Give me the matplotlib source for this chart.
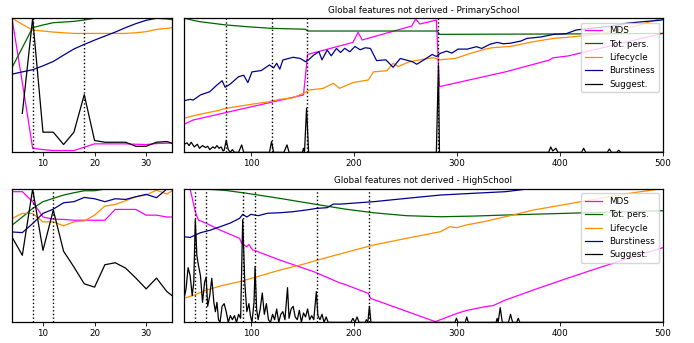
import numpy as np
import matplotlib
matplotlib.use("Agg")
import matplotlib.pyplot as plt

plt.rcParams['font.size'] = 6.3

labels = ['MDS', 'Tot. pers.', 'Lifecycle', 'Burstiness', 'Suggest.']
colors = ['magenta', 'darkgreen', 'darkorange', 'darkblue', 'black']

# ---------------- PrimarySchool, small panel (x 4..35) ----------------
ps_small_x = [4, 6, 8, 10, 12, 14, 16, 18, 20, 22, 24, 26, 28, 30, 32, 34, 35]
ps_small_mds = [1.0, 0.52, 0.03, 0.02, 0.013, 0.013, 0.013, 0.038, 0.063, 0.063, 0.063, 0.063, 0.06, 0.058, 0.065, 0.068, 0.068]
ps_small_pers = [0.633, 0.78, 0.93, 0.95, 0.967, 0.972, 0.977, 0.987, 1.0, 1.0, 1.0, 1.0, 1.0, 1.0, 1.0, 0.995, 0.99]
ps_small_life = [1.0, 0.955, 0.912, 0.905, 0.897, 0.892, 0.887, 0.887, 0.887, 0.887, 0.887, 0.887, 0.892, 0.9, 0.917, 0.925, 0.93]
ps_small_burst = [0.583, 0.6, 0.616, 0.645, 0.678, 0.725, 0.771, 0.805, 0.837, 0.867, 0.897, 0.93, 0.96, 0.985, 1.0, 1.0, 1.0]
ps_small_sugg = [np.nan, 0.29, 1.0, 0.15, 0.15, 0.058, 0.15, 0.43, 0.088, 0.075, 0.075, 0.075, 0.045, 0.045, 0.075, 0.08, 0.068]
ps_small_marks = [8, 18]

# ---------------- PrimarySchool, big panel (x 35..500) ----------------
ps_mds_x = [35, 44, 151, 155, 199, 204, 208, 256, 260, 264, 280, 283, 347, 390, 393, 408, 500]
ps_mds_y = [0.209, 0.241, 0.428, 0.73, 0.82, 0.895, 0.838, 0.942, 0.995, 0.957, 0.987, 0.49, 0.60, 0.689, 0.705, 0.719, 0.888]

ps_pers_x = [35, 50, 76, 100, 120, 153, 155, 281, 283, 400, 500]
ps_pers_y = [1.0, 0.975, 0.95, 0.935, 0.925, 0.918, 0.905, 0.905, 0.88, 0.883, 0.887]

ps_life_x = [35, 47, 67, 76, 96, 118, 128, 140, 151, 157, 170, 180, 186, 199, 214, 219, 232, 238,
             243, 254, 264, 277, 283, 298, 314, 327, 334, 352, 374, 394, 407, 439, 471, 494, 500]
ps_life_y = [0.254, 0.278, 0.31, 0.328, 0.353, 0.378, 0.395, 0.405, 0.44, 0.465, 0.477, 0.515, 0.477,
             0.52, 0.54, 0.60, 0.609, 0.664, 0.64, 0.676, 0.69, 0.706, 0.69, 0.70, 0.74, 0.769, 0.78,
             0.79, 0.825, 0.85, 0.858, 0.883, 0.937, 0.99, 1.0]

ps_burst_x = [35, 41, 44, 51, 60, 67, 72, 75, 80, 88, 93, 97, 101, 110, 118, 122, 125, 128, 131,
              141, 148, 153, 156, 161, 166, 169, 174, 178, 183, 187, 191, 196, 201, 206, 211, 216,
              222, 231, 238, 245, 250, 257, 261, 268, 276, 280, 284, 290, 295, 301, 310, 319, 324,
              332, 339, 345, 352, 362, 368, 381, 394, 406, 416, 439, 449, 465, 481, 497, 500]
ps_burst_y = [0.385, 0.395, 0.39, 0.428, 0.452, 0.502, 0.534, 0.485, 0.51, 0.564, 0.575, 0.52, 0.60,
              0.61, 0.652, 0.63, 0.664, 0.62, 0.689, 0.709, 0.70, 0.676, 0.69, 0.726, 0.75, 0.69,
              0.763, 0.72, 0.775, 0.745, 0.776, 0.75, 0.79, 0.765, 0.78, 0.775, 0.684, 0.69, 0.634,
              0.70, 0.69, 0.675, 0.657, 0.69, 0.73, 0.715, 0.739, 0.755, 0.74, 0.77, 0.77, 0.788,
              0.775, 0.806, 0.82, 0.81, 0.814, 0.83, 0.85, 0.86, 0.88, 0.885, 0.913, 0.933, 0.94,
              0.963, 0.975, 0.985, 0.99]

ps_sugg_x = [35, 38, 40, 42, 45, 48, 50, 53, 56, 58, 60, 63, 65, 67, 69, 71, 73, 74, 76, 78, 80, 82,
             84, 88, 91, 93, 118, 120, 122, 132, 135, 137, 150, 151, 152, 154, 156, 280, 282, 283,
             389, 391, 393, 396, 398, 421, 423, 425, 446, 448, 450, 455, 457, 459, 500]
ps_sugg_y = [0.06, 0.07, 0.05, 0.075, 0.04, 0.06, 0.03, 0.05, 0.035, 0.045, 0.02, 0.04, 0.03, 0.05,
             0.03, 0.04, 0.01, 0.015, 0.09, 0.02, 0.0, 0.02, 0.0, 0.0, 0.055, 0.0, 0.0, 0.08, 0.0,
             0.0, 0.055, 0.0, 0.0, 0.03, 0.0, 0.33, 0.0, 0.0, 0.65, 0.0, 0.0, 0.04, 0.01, 0.03,
             0.0, 0.0, 0.03, 0.0, 0.0, 0.025, 0.0, 0.0, 0.015, 0.0, 0.0]
ps_big_marks = [76, 120, 154, 282]

# ---------------- HighSchool, small panel (x 4..35) ----------------
hs_small_x = ps_small_x
hs_small_mds = [0.98, 0.98, 0.905, 0.79, 0.774, 0.772, 0.766, 0.766, 0.766, 0.766, 0.847, 0.847, 0.847, 0.804, 0.804, 0.79, 0.79]
hs_small_pers = [0.729, 0.79, 0.854, 0.905, 0.93, 0.955, 0.972, 0.987, 0.987, 1.0, 1.0, 1.0, 1.0, 1.0, 1.0, 1.0, 1.0]
hs_small_life = [0.779, 0.817, 0.817, 0.754, 0.754, 0.724, 0.754, 0.761, 0.804, 0.872, 0.884, 0.912, 0.942, 0.955, 0.992, 0.962, 0.987]
hs_small_burst = [0.678, 0.673, 0.741, 0.817, 0.849, 0.897, 0.905, 0.937, 0.927, 0.905, 0.927, 0.922, 0.942, 0.96, 0.935, 1.0, 1.0]
hs_small_sugg = [0.64, 0.503, 1.0, 0.54, 0.842, 0.533, 0.415, 0.289, 0.264, 0.432, 0.447, 0.407, 0.332, 0.251, 0.332, 0.231, 0.201]
hs_small_marks = [8, 12]

# ---------------- HighSchool, big panel (x 35..500) ----------------
hs_mds_x = [35, 41, 46, 49, 57, 70, 89, 91, 96, 98, 100, 102, 105, 128, 161, 186, 191, 214, 216,
            279, 300, 310, 327, 335, 347, 374, 407, 439, 471, 500]
hs_mds_y = [1.05, 1.0, 0.83, 0.767, 0.742, 0.692, 0.63, 0.592, 0.567, 0.585, 0.56, 0.542, 0.535,
            0.467, 0.38, 0.297, 0.285, 0.217, 0.18, 0.005, 0.067, 0.09, 0.117, 0.125, 0.167, 0.242,
            0.33, 0.412, 0.492, 0.56]

hs_pers_x = [35, 55, 75, 96, 128, 167, 191, 219, 251, 284, 316, 347, 407, 500]
hs_pers_y = [1.0, 1.0, 0.99, 0.968, 0.93, 0.88, 0.85, 0.822, 0.80, 0.792, 0.797, 0.805, 0.818, 0.837]

hs_life_x = [35, 45, 57, 70, 89, 106, 128, 148, 167, 191, 219, 251, 284, 293, 300, 309, 326, 347,
             374, 407, 439, 471, 497, 500]
hs_life_y = [0.18, 0.205, 0.242, 0.272, 0.305, 0.342, 0.392, 0.43, 0.472, 0.522, 0.58, 0.63, 0.68,
             0.717, 0.71, 0.73, 0.755, 0.792, 0.842, 0.887, 0.93, 0.972, 1.0, 1.005]

hs_burst_x = [35, 41, 46, 51, 60, 70, 80, 89, 92, 96, 100, 107, 116, 128, 141, 154, 164, 174, 180,
              187, 219, 251, 284, 316, 347, 368, 400, 500]
hs_burst_y = [0.642, 0.637, 0.655, 0.672, 0.69, 0.717, 0.745, 0.78, 0.81, 0.79, 0.81, 0.80, 0.818,
              0.822, 0.83, 0.843, 0.855, 0.86, 0.887, 0.887, 0.905, 0.93, 0.955, 0.968, 0.98, 1.0,
              1.02, 1.08]

hs_sugg_x = [35, 37, 39, 41, 43, 44.5, 46, 47.5, 49, 51, 53, 55, 56.5, 58, 60, 62, 64, 65.5, 67,
             68.5, 70, 72, 74, 76, 78, 80, 82, 84, 86, 88, 90, 92, 94, 96, 98, 99.5, 101, 103, 104,
             105.5, 107, 109, 111, 113, 115, 117, 119, 121, 123, 125, 127, 129, 131, 133, 135.5,
             137, 139, 141, 143, 145, 147, 149, 151, 153, 155, 157, 159, 161, 163.5, 165, 167, 169,
             171, 173, 175, 197, 199, 201, 203, 205, 211, 212, 213.5, 215, 216.5, 298, 299.5, 301,
             308, 309.5, 311, 338, 339, 340, 342, 344, 350, 352, 354, 358, 359.5, 361, 500]
hs_sugg_y = [0.18, 0.25, 0.41, 0.35, 0.2, 0.3, 0.77, 0.5, 0.43, 0.35, 0.15, 0.3, 0.34, 0.12, 0.2,
             0.33, 0.15, 0.08, 0.15, 0.02, 0.0, 0.12, 0.14, 0.08, 0.0, 0.05, 0.02, 0.05, 0.0, 0.06,
             0.03, 0.77, 0.3, 0.08, 0.14, 0.05, 0.0, 0.15, 0.42, 0.1, 0.02, 0.1, 0.22, 0.06, 0.14,
             0.02, 0.0, 0.06, 0.02, 0.1, 0.0, 0.06, 0.08, 0.02, 0.26, 0.03, 0.1, 0.12, 0.04, 0.02,
             0.09, 0.0, 0.07, 0.04, 0.1, 0.02, 0.05, 0.02, 0.23, 0.05, 0.02, 0.06, 0.0, 0.04, 0.0,
             0.0, 0.03, 0.0, 0.04, 0.0, 0.0, 0.02, 0.0, 0.12, 0.0, 0.0, 0.03, 0.0, 0.0, 0.04, 0.0,
             0.0, 0.03, 0.0, 0.11, 0.0, 0.0, 0.06, 0.0, 0.0, 0.03, 0.0, 0.0]
hs_big_marks = [46, 56, 92, 104, 164, 215]


def style(ax, xlim):
    ax.set_xlim(*xlim)
    ax.set_ylim(0, 1)
    ax.set_yticks([])
    ax.tick_params(axis='x', length=3, width=0.6, pad=2)
    for s in ax.spines.values():
        s.set_linewidth(0.9)


def small_panel(ax, x, series, marks):
    for y, c in zip(series, colors):
        ax.plot(x, y, color=c, lw=0.9)
    for m in marks:
        ax.axvline(m, color='black', ls=':', lw=1.0)
    style(ax, (4, 35))
    ax.set_xticks([10, 20, 30])


def big_panel(ax, xs, ys, marks, title):
    for x, y, c, lab in zip(xs, ys, colors, labels):
        ax.plot(x, y, color=c, lw=0.9, label=lab)
    for m in marks:
        ax.axvline(m, color='black', ls=':', lw=1.0)
    style(ax, (35, 500))
    ax.set_xticks([100, 200, 300, 400, 500])
    ax.set_title(title, fontsize=6.3, pad=4)
    ax.legend(loc='upper right', fontsize=6.3)


fig = plt.figure(figsize=(6.94, 3.43), dpi=100)
ax1 = fig.add_axes([0.0173, 0.556, 0.2305, 0.3907])
ax2 = fig.add_axes([0.2651, 0.556, 0.6902, 0.3907])
ax3 = fig.add_axes([0.0173, 0.0603, 0.2305, 0.3886])
ax4 = fig.add_axes([0.2651, 0.0603, 0.6902, 0.3886])

small_panel(ax1, ps_small_x,
            [ps_small_mds, ps_small_pers, ps_small_life, ps_small_burst, ps_small_sugg],
            ps_small_marks)
big_panel(ax2,
          [ps_mds_x, ps_pers_x, ps_life_x, ps_burst_x, ps_sugg_x],
          [ps_mds_y, ps_pers_y, ps_life_y, ps_burst_y, ps_sugg_y],
          ps_big_marks, 'Global features not derived - PrimarySchool')

small_panel(ax3, hs_small_x,
            [hs_small_mds, hs_small_pers, hs_small_life, hs_small_burst, hs_small_sugg],
            hs_small_marks)
big_panel(ax4,
          [hs_mds_x, hs_pers_x, hs_life_x, hs_burst_x, hs_sugg_x],
          [hs_mds_y, hs_pers_y, hs_life_y, hs_burst_y, hs_sugg_y],
          hs_big_marks, 'Global features not derived - HighSchool')

fig.savefig('out.png', dpi=100)
